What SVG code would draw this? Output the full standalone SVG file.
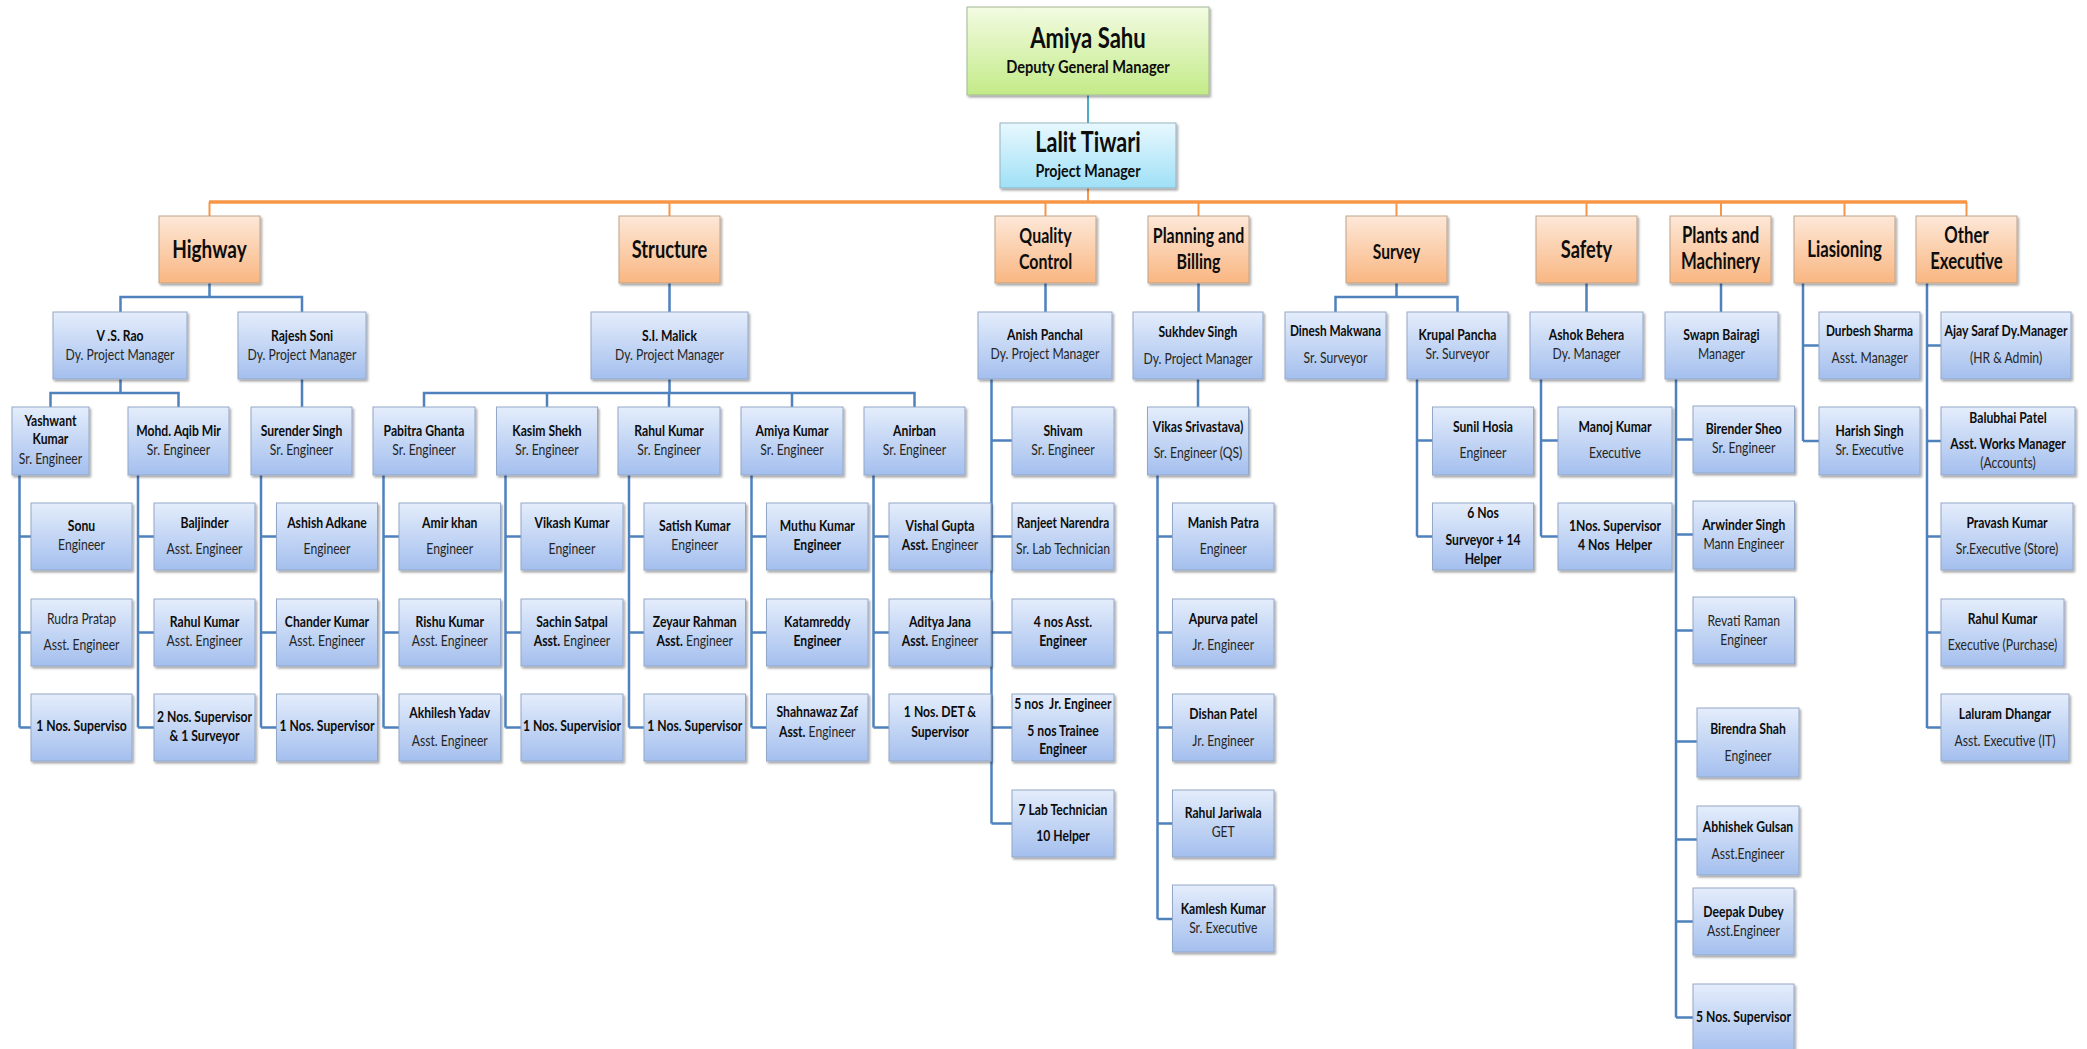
<svg xmlns="http://www.w3.org/2000/svg" width="2087" height="1049" viewBox="0 0 2087 1049">
<defs>
<linearGradient id="gB" x1="0" y1="0" x2="0" y2="1"><stop offset="0" stop-color="#E4EDFB"/><stop offset="1" stop-color="#A4BFEE"/></linearGradient>
<linearGradient id="gO" x1="0" y1="0" x2="0" y2="1"><stop offset="0" stop-color="#FDE8D8"/><stop offset="1" stop-color="#F9B681"/></linearGradient>
<linearGradient id="gG" x1="0" y1="0" x2="0" y2="1"><stop offset="0" stop-color="#F3FBE2"/><stop offset="1" stop-color="#C3EB88"/></linearGradient>
<linearGradient id="gC" x1="0" y1="0" x2="0" y2="1"><stop offset="0" stop-color="#E8F8FE"/><stop offset="1" stop-color="#9FE0F6"/></linearGradient>
<filter id="sh" x="-10%" y="-10%" width="125%" height="135%"><feDropShadow dx="1.5" dy="2" stdDeviation="1" flood-color="#000" flood-opacity=".35"/></filter>
<style>
.bb{fill:url(#gB);stroke:#93A8C8;stroke-width:1;filter:url(#sh)}
.ob{fill:url(#gO);stroke:#BFA48C;stroke-width:1;filter:url(#sh)}
.gb{fill:url(#gG);stroke:#A3B893;stroke-width:1;filter:url(#sh)}
.cb{fill:url(#gC);stroke:#93B3C2;stroke-width:1;filter:url(#sh)}
text{font-family:Lato,"Liberation Sans",sans-serif;text-anchor:middle}
.n{font-size:16px;font-weight:700;fill:#0d0d0d}
.t{font-size:16px;font-weight:400;fill:#262626}
.nb{font-weight:700;fill:#0d0d0d}
.h{font-weight:700;fill:#0d0d0d}
.ol{fill:none;stroke:#F79646;stroke-width:2}
.bl{fill:none;stroke:#4F81BD;stroke-width:2.5}
.tl{fill:none;stroke:#4BACC6;stroke-width:2}
</style>
</defs>
<rect width="2087" height="1049" fill="#fff"/>
<g id="connectors">
<path class="tl" d="M1088 95V123"/>
<path class="ol" d="M1088 188V202"/>
<path class="ol" style="stroke-width:3.5" d="M209 202H1967"/>
<path class="ol" d="M209.5 202V216M669.5 202V216M1045.5 202V216M1198.5 202V216M1396.5 202V216M1586.5 202V216M1721 202V216M1844.5 202V216M1966.5 202V216"/>
<path class="bl" d="M209.5 283V297M120.5 312V297H302V312"/>
<path class="bl" d="M669.5 283V312M1045.5 283V312M1198.5 283V312M1586.5 283V312M1721 283V312"/>
<path class="bl" d="M1396.5 283V297M1335.5 312V297H1457.5V312"/>
<path class="bl" d="M1803 283V441M1803 345.5H1819M1803 441H1819"/>
<path class="bl" d="M1927 283V728M1927 345.5H1941M1927 441H1941M1927 536.5H1941M1927 632.5H1941M1927 727.5H1941"/>
<path class="bl" d="M120.5 379V393M50.5 407V393H178.5V407"/>
<path class="bl" d="M302 379V407M1198 379V407"/>
<path class="bl" d="M669.5 379V393M424 407V393H914.5V407M547 393V407M669 393V407M792 393V407"/>
<path class="bl" d="M991.5 379V823.5M991.5 440.5H1012M991.5 536.5H1012M991.5 632.5H1012M991.5 727.5H1012M991.5 823.5H1012"/>
<path class="bl" d="M1417 379V536.5M1417 440.5H1432.5M1417 536.5H1432.5"/>
<path class="bl" d="M1541 379V536.5M1541 440.5H1558M1541 536.5H1558"/>
<path class="bl" d="M1676 379V1017.5M1676 439.5H1693M1676 534.5H1693M1676 630.5H1693M1676 741.5H1697M1676 839.5H1697M1676 921.5H1693M1676 1017.5H1693"/>
<path class="bl" d="M19.5 475V727.5M19.5 536.5H31M19.5 632.5H31M19.5 727.5H31"/>
<path class="bl" d="M138 475V727.5M138 536.5H154M138 632.5H154M138 727.5H154"/>
<path class="bl" d="M261 475V727.5M261 536.5H276.5M261 632.5H276.5M261 727.5H276.5"/>
<path class="bl" d="M383.5 475V727.5M383.5 536.5H399M383.5 632.5H399M383.5 727.5H399"/>
<path class="bl" d="M505.5 475V727.5M505.5 536.5H521M505.5 632.5H521M505.5 727.5H521"/>
<path class="bl" d="M629 475V727.5M629 536.5H644M629 632.5H644M629 727.5H644"/>
<path class="bl" d="M751.5 475V727.5M751.5 536.5H766.5M751.5 632.5H766.5M751.5 727.5H766.5"/>
<path class="bl" d="M873.5 475V727.5M873.5 536.5H889M873.5 632.5H889M873.5 727.5H889"/>
<path class="bl" d="M1157.5 475V919M1157.5 536.5H1172.5M1157.5 632.5H1172.5M1157.5 727.5H1172.5M1157.5 823.5H1172.5M1157.5 919H1172.5"/>
</g>
<g id="n-amiya" transform="translate(967 7)"><rect class="gb" width="242" height="88"/><text class="h" style="font-size:28px" transform="matrix(.79 0 0 1 121 41)">Amiya Sahu</text><text class="n" style="font-size:17px" transform="matrix(.86 0 0 1 121 66)">Deputy General Manager</text></g>
<g id="n-lalit" transform="translate(1000 123)"><rect class="cb" width="176" height="65"/><text class="h" style="font-size:28px" transform="matrix(.77 0 0 1 88 29)">Lalit Tiwari</text><text class="n" style="font-size:17px" transform="matrix(.84 0 0 1 88 54)">Project Manager</text></g>
<g id="n-highway" transform="translate(159 216)"><rect class="ob" width="101" height="67"/><text class="h" style="font-size:25px" transform="matrix(.76 0 0 1 50.5 42)">Highway</text></g>
<g id="n-structure" transform="translate(619 216)"><rect class="ob" width="101" height="67"/><text class="h" style="font-size:24px" transform="matrix(.76 0 0 1 50.5 42)">Structure</text></g>
<g id="n-qc" transform="translate(995 216)"><rect class="ob" width="101" height="67"/><text class="h" style="font-size:21px" transform="matrix(.76 0 0 1 50.5 27)">Quality</text><text class="h" style="font-size:21px" transform="matrix(.76 0 0 1 50.5 53)">Control</text></g>
<g id="n-planning" transform="translate(1148 216)"><rect class="ob" width="101" height="67"/><text class="h" style="font-size:21px" transform="matrix(.76 0 0 1 50.5 27)">Planning and</text><text class="h" style="font-size:21px" transform="matrix(.76 0 0 1 50.5 53)">Billing</text></g>
<g id="n-survey" transform="translate(1346 216)"><rect class="ob" width="101" height="67"/><text class="h" style="font-size:20px" transform="matrix(.78 0 0 1 50.5 43)">Survey</text></g>
<g id="n-safety" transform="translate(1536 216)"><rect class="ob" width="101" height="67"/><text class="h" style="font-size:24px" transform="matrix(.76 0 0 1 50.5 42)">Safety</text></g>
<g id="n-plants" transform="translate(1670 216)"><rect class="ob" width="101" height="67"/><text class="h" style="font-size:22px" transform="matrix(.76 0 0 1 50.5 27)">Plants and</text><text class="h" style="font-size:22px" transform="matrix(.76 0 0 1 50.5 53)">Machinery</text></g>
<g id="n-liasioning" transform="translate(1794 216)"><rect class="ob" width="101" height="67"/><text class="h" style="font-size:22px" transform="matrix(.76 0 0 1 50.5 41)">Liasioning</text></g>
<g id="n-other" transform="translate(1916 216)"><rect class="ob" width="101" height="67"/><text class="h" style="font-size:22px" transform="matrix(.76 0 0 1 50.5 27)">Other</text><text class="h" style="font-size:22px" transform="matrix(.76 0 0 1 50.5 53)">Executive</text></g>
<g id="n-vsrao" transform="translate(53 312)"><rect class="bb" width="134" height="67"/><text class="n" transform="matrix(.76 0 0 1 67 29)">V .S. Rao</text><text class="t" transform="matrix(.76 0 0 1 67 48)">Dy. Project Manager</text></g>
<g id="n-rajesh" transform="translate(238 312)"><rect class="bb" width="128" height="67"/><text class="n" transform="matrix(.76 0 0 1 64 29)">Rajesh Soni</text><text class="t" transform="matrix(.76 0 0 1 64 48)">Dy. Project Manager</text></g>
<g id="n-malick" transform="translate(591 312)"><rect class="bb" width="157" height="67"/><text class="n" transform="matrix(.76 0 0 1 78.5 29)">S.I. Malick</text><text class="t" transform="matrix(.76 0 0 1 78.5 48)">Dy. Project Manager</text></g>
<g id="n-anish" transform="translate(978 312)"><rect class="bb" width="134" height="67"/><text class="n" transform="matrix(.76 0 0 1 67 28)">Anish Panchal</text><text class="t" transform="matrix(.76 0 0 1 67 47)">Dy. Project Manager</text></g>
<g id="n-sukhdev" transform="translate(1133 312)"><rect class="bb" width="130" height="67"/><text class="n" transform="matrix(.76 0 0 1 65 25)">Sukhdev Singh</text><text class="t" transform="matrix(.76 0 0 1 65 51.5)">Dy. Project Manager</text></g>
<g id="n-dinesh" transform="translate(1285 312)"><rect class="bb" width="101" height="67"/><text class="n" transform="matrix(.74 0 0 1 50.5 24)">Dinesh Makwana</text><text class="t" transform="matrix(.76 0 0 1 50.5 51)">Sr. Surveyor</text></g>
<g id="n-krupal" transform="translate(1407 312)"><rect class="bb" width="101" height="67"/><text class="n" transform="matrix(.76 0 0 1 50.5 28)">Krupal Pancha</text><text class="t" transform="matrix(.76 0 0 1 50.5 47)">Sr. Surveyor</text></g>
<g id="n-ashok" transform="translate(1530 312)"><rect class="bb" width="113" height="67"/><text class="n" transform="matrix(.76 0 0 1 56.5 28)">Ashok Behera</text><text class="t" transform="matrix(.76 0 0 1 56.5 47)">Dy. Manager</text></g>
<g id="n-swapn" transform="translate(1665 312)"><rect class="bb" width="113" height="67"/><text class="n" transform="matrix(.76 0 0 1 56.5 28)">Swapn Bairagi</text><text class="t" transform="matrix(.76 0 0 1 56.5 47)">Manager</text></g>
<g id="n-durbesh" transform="translate(1819 312)"><rect class="bb" width="101" height="67"/><text class="n" transform="matrix(.74 0 0 1 50.5 24)">Durbesh Sharma</text><text class="t" transform="matrix(.76 0 0 1 50.5 51)">Asst. Manager</text></g>
<g id="n-ajay" transform="translate(1941 312)"><rect class="bb" width="130" height="67"/><text class="n" transform="matrix(.76 0 0 1 65 24)">Ajay Saraf Dy.Manager</text><text class="t" transform="matrix(.76 0 0 1 65 51)">(HR &amp; Admin)</text></g>
<g id="n-yashwant" transform="translate(12 407)"><rect class="bb" width="77" height="68"/><text class="n" transform="matrix(.76 0 0 1 38.5 18.7)">Yashwant</text><text class="n" transform="matrix(.76 0 0 1 38.5 37.3)">Kumar</text><text class="t" transform="matrix(.76 0 0 1 38.5 56.7)">Sr. Engineer</text></g>
<g id="n-mohd" transform="translate(128 407)"><rect class="bb" width="101" height="68"/><text class="n" transform="matrix(.76 0 0 1 50.5 29)">Mohd. Aqib Mir</text><text class="t" transform="matrix(.76 0 0 1 50.5 48)">Sr. Engineer</text></g>
<g id="n-surender" transform="translate(251 407)"><rect class="bb" width="101" height="68"/><text class="n" transform="matrix(.76 0 0 1 50.5 29)">Surender Singh</text><text class="t" transform="matrix(.76 0 0 1 50.5 48)">Sr. Engineer</text></g>
<g id="n-pabitra" transform="translate(373 407)"><rect class="bb" width="102" height="68"/><text class="n" transform="matrix(.76 0 0 1 51 29)">Pabitra Ghanta</text><text class="t" transform="matrix(.76 0 0 1 51 48)">Sr. Engineer</text></g>
<g id="n-kasim" transform="translate(496.5 407)"><rect class="bb" width="101" height="68"/><text class="n" transform="matrix(.76 0 0 1 50.5 29)">Kasim Shekh</text><text class="t" transform="matrix(.76 0 0 1 50.5 48)">Sr. Engineer</text></g>
<g id="n-rahul-s" transform="translate(618 407)"><rect class="bb" width="102" height="68"/><text class="n" transform="matrix(.76 0 0 1 51 29)">Rahul Kumar</text><text class="t" transform="matrix(.76 0 0 1 51 48)">Sr. Engineer</text></g>
<g id="n-amiyak" transform="translate(741 407)"><rect class="bb" width="102" height="68"/><text class="n" transform="matrix(.76 0 0 1 51 29)">Amiya Kumar</text><text class="t" transform="matrix(.76 0 0 1 51 48)">Sr. Engineer</text></g>
<g id="n-anirban" transform="translate(864 407)"><rect class="bb" width="101" height="68"/><text class="n" transform="matrix(.76 0 0 1 50.5 29)">Anirban</text><text class="t" transform="matrix(.76 0 0 1 50.5 48)">Sr. Engineer</text></g>
<g id="n-shivam" transform="translate(1012 407)"><rect class="bb" width="102" height="68"/><text class="n" transform="matrix(.76 0 0 1 51 29)">Shivam</text><text class="t" transform="matrix(.76 0 0 1 51 48)">Sr. Engineer</text></g>
<g id="n-vikas" transform="translate(1147.5 407)"><rect class="bb" width="101" height="68"/><text class="n" transform="matrix(.76 0 0 1 50.5 24.7)">Vikas Srivastava)</text><text class="t" transform="matrix(.76 0 0 1 50.5 51.3)">Sr. Engineer (QS)</text></g>
<g id="n-sunil" transform="translate(1432.5 407)"><rect class="bb" width="101" height="68"/><text class="n" transform="matrix(.76 0 0 1 50.5 24.7)">Sunil Hosia</text><text class="t" transform="matrix(.76 0 0 1 50.5 51)">Engineer</text></g>
<g id="n-manoj" transform="translate(1558 407)"><rect class="bb" width="114" height="68"/><text class="n" transform="matrix(.76 0 0 1 57 24.7)">Manoj Kumar</text><text class="t" transform="matrix(.76 0 0 1 57 51)">Executive</text></g>
<g id="n-birender" transform="translate(1693 406)"><rect class="bb" width="101.5" height="67"/><text class="n" transform="matrix(.76 0 0 1 50.75 28)">Birender Sheo</text><text class="t" transform="matrix(.76 0 0 1 50.75 47.3)">Sr. Engineer</text></g>
<g id="n-harish" transform="translate(1819 407)"><rect class="bb" width="101" height="68"/><text class="n" transform="matrix(.76 0 0 1 50.5 29)">Harish Singh</text><text class="t" transform="matrix(.76 0 0 1 50.5 48)">Sr. Executive</text></g>
<g id="n-balubhai" transform="translate(1941 407)"><rect class="bb" width="134" height="68"/><text class="n" transform="matrix(.76 0 0 1 67 15.7)">Balubhai Patel</text><text class="n" transform="matrix(.76 0 0 1 67 42)">Asst. Works Manager</text><text class="t" transform="matrix(.76 0 0 1 67 61)">(Accounts)</text></g>
<g id="n-sonu" transform="translate(31 503)"><rect class="bb" width="101" height="67"/><text class="n" transform="matrix(.76 0 0 1 50.5 28)">Sonu</text><text class="t" transform="matrix(.76 0 0 1 50.5 47)">Engineer</text></g>
<g id="n-baljinder" transform="translate(154 503)"><rect class="bb" width="101" height="67"/><text class="n" transform="matrix(.76 0 0 1 50.5 25)">Baljinder</text><text class="t" transform="matrix(.76 0 0 1 50.5 51)">Asst. Engineer</text></g>
<g id="n-ashish" transform="translate(276.5 503)"><rect class="bb" width="101" height="67"/><text class="n" transform="matrix(.76 0 0 1 50.5 25)">Ashish Adkane</text><text class="t" transform="matrix(.76 0 0 1 50.5 51)">Engineer</text></g>
<g id="n-amir" transform="translate(399 503)"><rect class="bb" width="101.5" height="67"/><text class="n" transform="matrix(.76 0 0 1 50.75 25)">Amir khan</text><text class="t" transform="matrix(.76 0 0 1 50.75 51)">Engineer</text></g>
<g id="n-vikash" transform="translate(521 503)"><rect class="bb" width="102" height="67"/><text class="n" transform="matrix(.76 0 0 1 51 25)">Vikash Kumar</text><text class="t" transform="matrix(.76 0 0 1 51 51)">Engineer</text></g>
<g id="n-satish" transform="translate(644 503)"><rect class="bb" width="101.5" height="67"/><text class="n" transform="matrix(.76 0 0 1 50.75 28)">Satish Kumar</text><text class="t" transform="matrix(.76 0 0 1 50.75 47)">Engineer</text></g>
<g id="n-muthu" transform="translate(766.5 503)"><rect class="bb" width="101.5" height="67"/><text class="n" transform="matrix(.76 0 0 1 50.75 28)">Muthu Kumar</text><text class="n" transform="matrix(.76 0 0 1 50.75 47)">Engineer</text></g>
<g id="n-vishal" transform="translate(889 503)"><rect class="bb" width="102" height="67"/><text class="n" transform="matrix(.76 0 0 1 51 28)">Vishal Gupta</text><text class="t" transform="matrix(.76 0 0 1 51 47)"><tspan class="nb">Asst.</tspan> Engineer</text></g>
<g id="n-ranjeet" transform="translate(1012 503)"><rect class="bb" width="102" height="67"/><text class="n" transform="matrix(.74 0 0 1 51 25)">Ranjeet Narendra</text><text class="t" transform="matrix(.76 0 0 1 51 51)">Sr. Lab Technician</text></g>
<g id="n-manish" transform="translate(1172.5 503)"><rect class="bb" width="101.5" height="67"/><text class="n" transform="matrix(.76 0 0 1 50.75 25)">Manish Patra</text><text class="t" transform="matrix(.76 0 0 1 50.75 51)">Engineer</text></g>
<g id="n-sixnos" transform="translate(1432.5 503)"><rect class="bb" width="101" height="67"/><text class="n" transform="matrix(.76 0 0 1 50.5 15.3)">6 Nos</text><text class="n" transform="matrix(.76 0 0 1 50.5 42)">Surveyor + 14</text><text class="n" transform="matrix(.76 0 0 1 50.5 60.7)">Helper</text></g>
<g id="n-onenos" transform="translate(1558 503)"><rect class="bb" width="114" height="67"/><text class="n" transform="matrix(.76 0 0 1 57 27.7)">1Nos. Supervisor</text><text class="n" xml:space="preserve" transform="matrix(.76 0 0 1 57 47)">4 Nos  Helper</text></g>
<g id="n-arwinder" transform="translate(1693 501)"><rect class="bb" width="101.5" height="68"/><text class="n" transform="matrix(.76 0 0 1 50.75 29)">Arwinder Singh</text><text class="t" transform="matrix(.76 0 0 1 50.75 48)">Mann Engineer</text></g>
<g id="n-pravash" transform="translate(1941 503)"><rect class="bb" width="132" height="67"/><text class="n" transform="matrix(.76 0 0 1 66 25)">Pravash Kumar</text><text class="t" transform="matrix(.76 0 0 1 66 51)">Sr.Executive (Store)</text></g>
<g id="n-rudra" transform="translate(31 599)"><rect class="bb" width="101" height="67"/><text class="t" transform="matrix(.76 0 0 1 50.5 25)">Rudra Pratap</text><text class="t" transform="matrix(.76 0 0 1 50.5 51)">Asst. Engineer</text></g>
<g id="n-rahul-m" transform="translate(154 599)"><rect class="bb" width="101" height="67"/><text class="n" transform="matrix(.76 0 0 1 50.5 28)">Rahul Kumar</text><text class="t" transform="matrix(.76 0 0 1 50.5 47)">Asst. Engineer</text></g>
<g id="n-chander" transform="translate(276.5 599)"><rect class="bb" width="101" height="67"/><text class="n" transform="matrix(.76 0 0 1 50.5 28)">Chander Kumar</text><text class="t" transform="matrix(.76 0 0 1 50.5 47)">Asst. Engineer</text></g>
<g id="n-rishu" transform="translate(399 599)"><rect class="bb" width="101.5" height="67"/><text class="n" transform="matrix(.76 0 0 1 50.75 28)">Rishu Kumar</text><text class="t" transform="matrix(.76 0 0 1 50.75 47)">Asst. Engineer</text></g>
<g id="n-sachin" transform="translate(521 599)"><rect class="bb" width="102" height="67"/><text class="n" transform="matrix(.76 0 0 1 51 28)">Sachin Satpal</text><text class="t" transform="matrix(.76 0 0 1 51 47)"><tspan class="nb">Asst.</tspan> Engineer</text></g>
<g id="n-zeyaur" transform="translate(644 599)"><rect class="bb" width="101.5" height="67"/><text class="n" transform="matrix(.76 0 0 1 50.75 28)">Zeyaur Rahman</text><text class="t" transform="matrix(.76 0 0 1 50.75 47)"><tspan class="nb">Asst.</tspan> Engineer</text></g>
<g id="n-katam" transform="translate(766.5 599)"><rect class="bb" width="101.5" height="67"/><text class="n" transform="matrix(.76 0 0 1 50.75 28)">Katamreddy</text><text class="n" transform="matrix(.76 0 0 1 50.75 47)">Engineer</text></g>
<g id="n-aditya" transform="translate(889 599)"><rect class="bb" width="102" height="67"/><text class="n" transform="matrix(.76 0 0 1 51 28)">Aditya Jana</text><text class="t" transform="matrix(.76 0 0 1 51 47)"><tspan class="nb">Asst.</tspan> Engineer</text></g>
<g id="n-fournos" transform="translate(1012 599)"><rect class="bb" width="102" height="67"/><text class="n" transform="matrix(.76 0 0 1 51 28)">4 nos Asst.</text><text class="n" transform="matrix(.76 0 0 1 51 47)">Engineer</text></g>
<g id="n-apurva" transform="translate(1172.5 599)"><rect class="bb" width="101.5" height="67"/><text class="n" transform="matrix(.76 0 0 1 50.75 24.5)">Apurva patel</text><text class="t" transform="matrix(.76 0 0 1 50.75 51)">Jr. Engineer</text></g>
<g id="n-revati" transform="translate(1693 597)"><rect class="bb" width="101.5" height="67"/><text class="t" transform="matrix(.76 0 0 1 50.75 28.7)">Revati Raman</text><text class="t" transform="matrix(.76 0 0 1 50.75 48)">Engineer</text></g>
<g id="n-rahul-p" transform="translate(1941 599)"><rect class="bb" width="123" height="67"/><text class="n" transform="matrix(.76 0 0 1 61.5 24.5)">Rahul Kumar</text><text class="t" transform="matrix(.76 0 0 1 61.5 51)">Executive (Purchase)</text></g>
<g id="n-sup1" transform="translate(31 694)"><rect class="bb" width="101" height="67"/><text class="n" transform="matrix(.76 0 0 1 50.5 37)">1 Nos. Superviso</text></g>
<g id="n-twonos" transform="translate(154 694)"><rect class="bb" width="101" height="67"/><text class="n" transform="matrix(.76 0 0 1 50.5 28)">2 Nos. Supervisor</text><text class="n" transform="matrix(.76 0 0 1 50.5 47)">&amp; 1 Surveyor</text></g>
<g id="n-sup2" transform="translate(276.5 694)"><rect class="bb" width="101" height="67"/><text class="n" transform="matrix(.76 0 0 1 50.5 37)">1 Nos. Supervisor</text></g>
<g id="n-akhilesh" transform="translate(399 694)"><rect class="bb" width="101.5" height="67"/><text class="n" transform="matrix(.76 0 0 1 50.75 24.3)">Akhilesh Yadav</text><text class="t" transform="matrix(.76 0 0 1 50.75 51.7)">Asst. Engineer</text></g>
<g id="n-sup3" transform="translate(521 694)"><rect class="bb" width="102" height="67"/><text class="n" transform="matrix(.76 0 0 1 51 37)">1 Nos. Supervisior</text></g>
<g id="n-sup4" transform="translate(644 694)"><rect class="bb" width="101.5" height="67"/><text class="n" transform="matrix(.76 0 0 1 50.75 37)">1 Nos. Supervisor</text></g>
<g id="n-shahnawaz" transform="translate(766.5 694)"><rect class="bb" width="101.5" height="67"/><text class="n" transform="matrix(.76 0 0 1 50.75 23.3)">Shahnawaz Zaf</text><text class="t" transform="matrix(.76 0 0 1 50.75 42.7)"><tspan class="nb">Asst.</tspan> Engineer</text></g>
<g id="n-det" transform="translate(889 694)"><rect class="bb" width="102" height="67"/><text class="n" transform="matrix(.76 0 0 1 51 23.3)">1 Nos. DET &amp;</text><text class="n" transform="matrix(.76 0 0 1 51 42.7)">Supervisor</text></g>
<g id="n-fivenos" transform="translate(1012 694)"><rect class="bb" width="102" height="67"/><text class="n" xml:space="preserve" transform="matrix(.76 0 0 1 51 15.3)">5 nos  Jr. Engineer</text><text class="n" transform="matrix(.76 0 0 1 51 41.7)">5 nos Trainee</text><text class="n" transform="matrix(.76 0 0 1 51 60.3)">Engineer</text></g>
<g id="n-dishan" transform="translate(1172.5 694)"><rect class="bb" width="101.5" height="67"/><text class="n" transform="matrix(.76 0 0 1 50.75 25)">Dishan Patel</text><text class="t" transform="matrix(.76 0 0 1 50.75 51.7)">Jr. Engineer</text></g>
<g id="n-birendra" transform="translate(1697 708)"><rect class="bb" width="102" height="69"/><text class="n" transform="matrix(.76 0 0 1 51 25.7)">Birendra Shah</text><text class="t" transform="matrix(.76 0 0 1 51 52.5)">Engineer</text></g>
<g id="n-laluram" transform="translate(1941 694)"><rect class="bb" width="128" height="67"/><text class="n" transform="matrix(.76 0 0 1 64 25)">Laluram Dhangar</text><text class="t" transform="matrix(.76 0 0 1 64 51.7)">Asst. Executive (IT)</text></g>
<g id="n-lab" transform="translate(1012 790)"><rect class="bb" width="102" height="67"/><text class="n" transform="matrix(.76 0 0 1 51 24.7)">7 Lab Technician</text><text class="n" transform="matrix(.76 0 0 1 51 51)">10 Helper</text></g>
<g id="n-jariwala" transform="translate(1172.5 790)"><rect class="bb" width="101.5" height="67"/><text class="n" transform="matrix(.76 0 0 1 50.75 28.3)">Rahul Jariwala</text><text class="t" transform="matrix(.76 0 0 1 50.75 47.3)">GET</text></g>
<g id="n-abhishek" transform="translate(1697 806)"><rect class="bb" width="102" height="69"/><text class="n" transform="matrix(.76 0 0 1 51 25.7)">Abhishek Gulsan</text><text class="t" transform="matrix(.76 0 0 1 51 52.6)">Asst.Engineer</text></g>
<g id="n-kamlesh" transform="translate(1172.5 885)"><rect class="bb" width="101.5" height="67"/><text class="n" transform="matrix(.76 0 0 1 50.75 28.7)">Kamlesh Kumar</text><text class="t" transform="matrix(.76 0 0 1 50.75 47.7)">Sr. Executive</text></g>
<g id="n-deepak" transform="translate(1693 888)"><rect class="bb" width="101" height="67"/><text class="n" transform="matrix(.76 0 0 1 50.5 28.7)">Deepak Dubey</text><text class="t" transform="matrix(.76 0 0 1 50.5 48)">Asst.Engineer</text></g>
<g id="n-fivesup" transform="translate(1693 984)"><rect class="bb" width="101" height="70"/><text class="n" transform="matrix(.76 0 0 1 50.5 37.7)">5 Nos. Supervisor</text></g>
</svg>
